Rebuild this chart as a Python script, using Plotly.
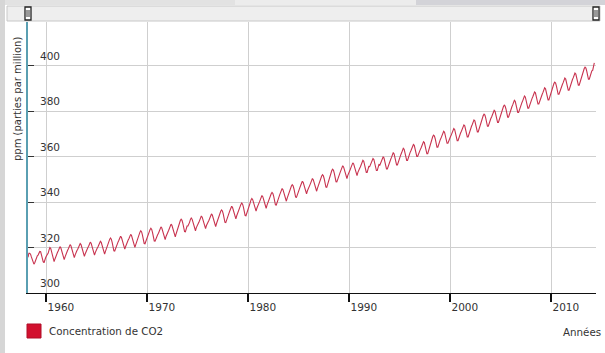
import pandas as pd
import plotly.graph_objects as go

# Monthly CO2 concentration (ppm), Mauna Loa
co2_1958_1959 = [315.7, 317.5, 317.5, 317.1, 315.9, 314.9, 313.2, 312.7, 313.3, 314.7,
                 315.6, 316.4, 316.7, 317.7, 318.3, 318.2, 316.5, 314.8, 313.8, 313.3, 314.8, 315.6]
co2_1960s = [
    316.4, 317.0, 317.6, 319.0, 320.0, 319.6, 318.2, 315.9, 314.2, 313.8, 315.0, 316.2,
    317.2, 317.9, 318.6, 319.8, 320.4, 319.9, 318.5, 316.4, 314.8, 314.7, 315.9, 317.1,
    318.1, 318.8, 319.5, 320.7, 321.3, 320.8, 319.4, 317.3, 315.7, 315.6, 316.8, 318.0,
    318.6, 319.3, 320.0, 321.2, 321.8, 321.3, 319.9, 317.8, 316.2, 316.1, 317.3, 318.5,
    319.2, 319.9, 320.6, 321.8, 322.4, 321.9, 320.5, 318.4, 316.8, 316.7, 317.9, 319.1,
    319.6, 320.3, 321.0, 322.2, 322.8, 322.3, 320.9, 318.8, 317.2, 317.1, 318.3, 319.5,
    321.0, 321.7, 322.4, 323.6, 324.2, 323.7, 322.3, 320.2, 318.6, 318.5, 319.7, 320.9,
    321.8, 322.5, 323.2, 324.4, 325.0, 324.5, 323.1, 321.0, 319.4, 319.3, 320.5, 321.7,
    322.6, 323.3, 324.0, 325.2, 325.8, 325.3, 323.9, 321.8, 320.2, 320.1, 321.3, 322.5,
    324.2, 324.9, 325.6, 326.8, 327.4, 326.9, 325.5, 323.4, 321.8, 321.7, 322.9, 324.1,
]
co2_1970s = [
    325.3, 326.0, 326.7, 327.9, 328.5, 328.0, 326.6, 324.5, 322.9, 322.8, 324.0, 325.2,
    325.6, 326.3, 327.2, 328.5, 329.1, 328.6, 327.3, 325.2, 323.6, 323.5, 324.9, 326.1,
    326.8, 327.5, 328.4, 329.7, 330.3, 329.8, 328.5, 326.4, 324.8, 324.7, 326.1, 327.3,
    329.0, 329.7, 330.6, 331.9, 332.5, 332.0, 330.7, 328.6, 327.0, 326.9, 328.3, 329.5,
    329.5, 330.2, 331.1, 332.4, 333.0, 332.5, 331.2, 329.1, 327.5, 327.4, 328.8, 330.0,
    330.4, 331.1, 332.0, 333.3, 333.9, 333.4, 332.1, 330.0, 328.4, 328.3, 329.7, 330.9,
    331.3, 332.0, 332.9, 334.2, 334.8, 334.3, 333.0, 330.9, 329.3, 329.2, 330.6, 331.8,
    333.1, 333.8, 334.7, 336.0, 336.6, 336.1, 334.8, 332.7, 331.1, 331.0, 332.4, 333.6,
    334.7, 335.4, 336.3, 337.6, 338.2, 337.7, 336.4, 334.3, 332.7, 332.6, 334.0, 335.2,
    336.1, 336.8, 337.7, 339.0, 339.6, 339.1, 337.8, 335.7, 334.1, 334.0, 335.4, 336.6,
]
co2_1980s = [
    338.1, 338.8, 339.7, 341.0, 341.6, 341.1, 339.8, 337.7, 336.1, 336.0, 337.4, 338.6,
    339.4, 340.1, 341.0, 342.3, 342.9, 342.4, 341.1, 339.0, 337.4, 337.3, 338.7, 339.9,
    340.8, 341.5, 342.4, 343.7, 344.3, 343.8, 342.5, 340.4, 338.8, 338.7, 340.1, 341.3,
    342.5, 343.2, 344.1, 345.4, 346.0, 345.5, 344.2, 342.1, 340.5, 340.4, 341.8, 343.0,
    344.2, 344.9, 345.8, 347.1, 347.7, 347.2, 345.9, 343.8, 342.2, 342.1, 343.5, 344.7,
    345.7, 346.4, 347.3, 348.6, 349.2, 348.7, 347.4, 345.3, 343.7, 343.6, 345.0, 346.2,
    346.9, 347.6, 348.5, 349.8, 350.4, 349.9, 348.6, 346.5, 344.9, 344.8, 346.2, 347.4,
    348.6, 349.3, 350.2, 351.5, 352.1, 351.6, 350.3, 348.2, 346.6, 346.5, 347.9, 349.1,
    351.0, 351.7, 352.6, 353.9, 354.5, 354.0, 352.7, 350.6, 349.0, 348.9, 350.3, 351.5,
    352.5, 353.2, 354.1, 355.4, 356.0, 355.5, 354.2, 352.1, 350.5, 350.4, 351.8, 353.0,
]
co2_1990s = [
    353.8, 354.5, 355.4, 356.7, 357.3, 356.8, 355.5, 353.4, 351.8, 351.7, 353.1, 354.3,
    354.8, 355.6, 356.4, 357.8, 358.4, 358.0, 356.7, 354.7, 353.1, 353.1, 354.5, 355.7,
    355.6, 356.4, 357.2, 358.6, 359.2, 358.8, 357.5, 355.5, 353.9, 353.9, 355.3, 356.5,
    356.3, 357.1, 357.9, 359.3, 359.9, 359.5, 358.2, 356.2, 354.6, 354.6, 356.0, 357.2,
    358.1, 358.9, 359.7, 361.1, 361.7, 361.3, 360.0, 358.0, 356.4, 356.4, 357.8, 359.0,
    360.1, 360.9, 361.7, 363.1, 363.7, 363.3, 362.0, 360.0, 358.4, 358.4, 359.8, 361.0,
    361.8, 362.6, 363.4, 364.8, 365.4, 365.0, 363.7, 361.7, 360.1, 360.1, 361.5, 362.7,
    363.0, 363.8, 364.6, 366.0, 366.6, 366.2, 364.9, 362.9, 361.3, 361.3, 362.7, 363.9,
    365.9, 366.7, 367.5, 368.9, 369.5, 369.1, 367.8, 365.8, 364.2, 364.2, 365.6, 366.8,
    367.6, 368.4, 369.2, 370.6, 371.2, 370.8, 369.5, 367.5, 365.9, 365.9, 367.3, 368.5,
]
co2_2000s = [
    368.8, 369.6, 370.4, 371.8, 372.4, 372.0, 370.7, 368.7, 367.1, 367.1, 368.5, 369.7,
    370.4, 371.2, 372.0, 373.4, 374.0, 373.6, 372.3, 370.3, 368.7, 368.7, 370.1, 371.3,
    372.6, 373.4, 374.2, 375.6, 376.2, 375.8, 374.5, 372.5, 370.9, 370.9, 372.3, 373.5,
    375.1, 375.9, 376.7, 378.1, 378.7, 378.3, 377.0, 375.0, 373.4, 373.4, 374.8, 376.0,
    376.8, 377.6, 378.4, 379.8, 380.4, 380.0, 378.7, 376.7, 375.1, 375.1, 376.5, 377.7,
    379.1, 379.9, 380.7, 382.1, 382.7, 382.3, 381.0, 379.0, 377.4, 377.4, 378.8, 380.0,
    381.2, 382.0, 382.8, 384.2, 384.8, 384.4, 383.1, 381.1, 379.5, 379.5, 380.9, 382.1,
    383.1, 383.9, 384.7, 386.1, 386.7, 386.3, 385.0, 383.0, 381.4, 381.4, 382.8, 384.0,
    384.9, 385.7, 386.5, 387.9, 388.5, 388.1, 386.8, 384.8, 383.2, 383.2, 384.6, 385.8,
    386.7, 387.5, 388.3, 389.7, 390.3, 389.9, 388.6, 386.6, 385.0, 385.0, 386.4, 387.6,
]
co2_2010s = [
    389.2, 390.0, 390.8, 392.2, 392.8, 392.4, 391.1, 389.1, 387.5, 387.5, 388.9, 390.1,
    391.0, 391.8, 392.6, 394.0, 394.6, 394.2, 392.9, 390.9, 389.3, 389.3, 390.7, 391.9,
    393.2, 394.0, 394.8, 396.2, 396.8, 396.4, 395.1, 393.1, 391.5, 391.5, 392.9, 394.1,
    395.8, 396.6, 397.4, 398.8, 399.4, 399.0, 397.7, 395.7, 394.1, 394.1, 395.5, 396.7,
    397.8, 398.0, 399.8, 401.3,
]

y_ticks = [300, 320, 340, 360, 380, 400]
x_tick_years = ["1960", "1970", "1980", "1990", "2000", "2010"]

co2 = co2_1958_1959 + co2_1960s + co2_1970s + co2_1980s + co2_1990s + co2_2000s + co2_2010s
months = pd.date_range("1958-03-01", periods=len(co2), freq="MS") + pd.Timedelta(days=14)

W, H = 605, 353
ML, MR, MT, MB = 28, 9, 22, 60
PW, PH = W - ML - MR, H - MT - MB


def px(x):
    return (x - ML) / PW


def py(y):
    return (H - MB - y) / PH


FONT = "DejaVu Sans"
TXT = "#333333"

fig = go.Figure()
fig.add_trace(go.Scatter(
    x=months, y=co2, mode="lines",
    line=dict(color="#c8334f", width=1.1),
    name="Concentration de CO2", hoverinfo="x+y",
))

shapes = []
# top strip (window chrome)
shapes.append(dict(type="rect", xref="paper", yref="paper", x0=px(0), x1=px(235), y0=py(5), y1=py(0),
                   fillcolor="#e2e2e2", line=dict(width=0), layer="below"))
shapes.append(dict(type="rect", xref="paper", yref="paper", x0=px(235), x1=px(416), y0=py(5), y1=py(0),
                   fillcolor="#ececec", line=dict(width=0), layer="below"))
shapes.append(dict(type="rect", xref="paper", yref="paper", x0=px(416), x1=px(605), y0=py(5), y1=py(0),
                   fillcolor="#d3d3d8", line=dict(width=0), layer="below"))
# left strip
shapes.append(dict(type="rect", xref="paper", yref="paper", x0=px(0), x1=px(5), y0=py(353), y1=py(0),
                   fillcolor="#d6d6d6", line=dict(width=0), layer="below"))
# navigator bar
shapes.append(dict(type="rect", xref="paper", yref="paper", x0=px(7), x1=px(600), y0=py(21), y1=py(6),
                   fillcolor="#eeeeee", line=dict(color="#c8c8c8", width=1)))
# handles
for hx in (25, 593):
    shapes.append(dict(type="rect", xref="paper", yref="paper", x0=px(hx), x1=px(hx + 6),
                       y0=py(20), y1=py(7), fillcolor="#ffffff", line=dict(color="#222222", width=1.3)))
    for lx in (hx + 2, hx + 4):
        shapes.append(dict(type="line", xref="paper", yref="paper", x0=px(lx), x1=px(lx),
                           y0=py(17), y1=py(10), line=dict(color="#333333", width=1)))
# legend swatch
shapes.append(dict(type="rect", xref="paper", yref="paper", x0=px(27), x1=px(41), y0=py(338), y1=py(324),
                   fillcolor="#d2102e", line=dict(color="#b00c26", width=1)))

annotations = [
    dict(text="ppm (parties par million)", textangle=-90, xref="paper", yref="paper",
         x=px(17), y=py(99), showarrow=False, font=dict(family=FONT, size=10, color=TXT),
         xanchor="center", yanchor="middle"),
    dict(text="Concentration de CO2", xref="paper", yref="paper", x=px(47), y=py(331),
         showarrow=False, xanchor="left", yanchor="middle",
         font=dict(family=FONT, size=10.3, color=TXT)),
    dict(text="Années", xref="paper", yref="paper", x=px(603), y=py(332),
         showarrow=False, xanchor="right", yanchor="middle",
         font=dict(family=FONT, size=10.3, color=TXT)),
]
# y tick labels: inside the plot, just above each gridline
for v in y_ticks:
    annotations.append(dict(text=str(v), xref="paper", yref="y", x=px(38), y=v, yshift=10,
                            showarrow=False, xanchor="left", yanchor="middle",
                            font=dict(family=FONT, size=10.5, color=TXT)))

fig.update_layout(
    width=W, height=H,
    margin=dict(l=ML, r=MR, t=MT, b=MB, pad=0, autoexpand=False),
    paper_bgcolor="#ffffff", plot_bgcolor="#ffffff",
    showlegend=False,
    font=dict(family=FONT, size=11, color=TXT),
    shapes=shapes, annotations=annotations,
    xaxis=dict(
        type="date", automargin=False,
        range=["1958-03-15", "2014-06-15"],
        tickvals=[f"{y}-01-01" for y in x_tick_years],
        ticktext=x_tick_years,
        ticks="outside", ticklen=8, tickwidth=1.5, tickcolor="#111111",
        ticklabelposition="outside right", ticklabelstandoff=4,
        showline=True, linecolor="#111111", linewidth=1.3,
        showgrid=True, gridcolor="#cfcfcf", gridwidth=1,
        zeroline=False, fixedrange=True,
        tickfont=dict(family=FONT, size=10.5, color=TXT),
    ),
    yaxis=dict(
        range=[300, 419.3], automargin=False,
        tickvals=y_ticks,
        showticklabels=False,
        ticks="inside", ticklen=6, tickwidth=1.2, tickcolor="#333333",
        showline=True, linecolor="#5a9fb2", linewidth=1.5,
        showgrid=True, gridcolor="#cfcfcf", gridwidth=1,
        zeroline=False, fixedrange=True,
    ),
)

fig.write_html("out.html", config={"displayModeBar": False},
               post_script="document.body.style.margin='0';")
